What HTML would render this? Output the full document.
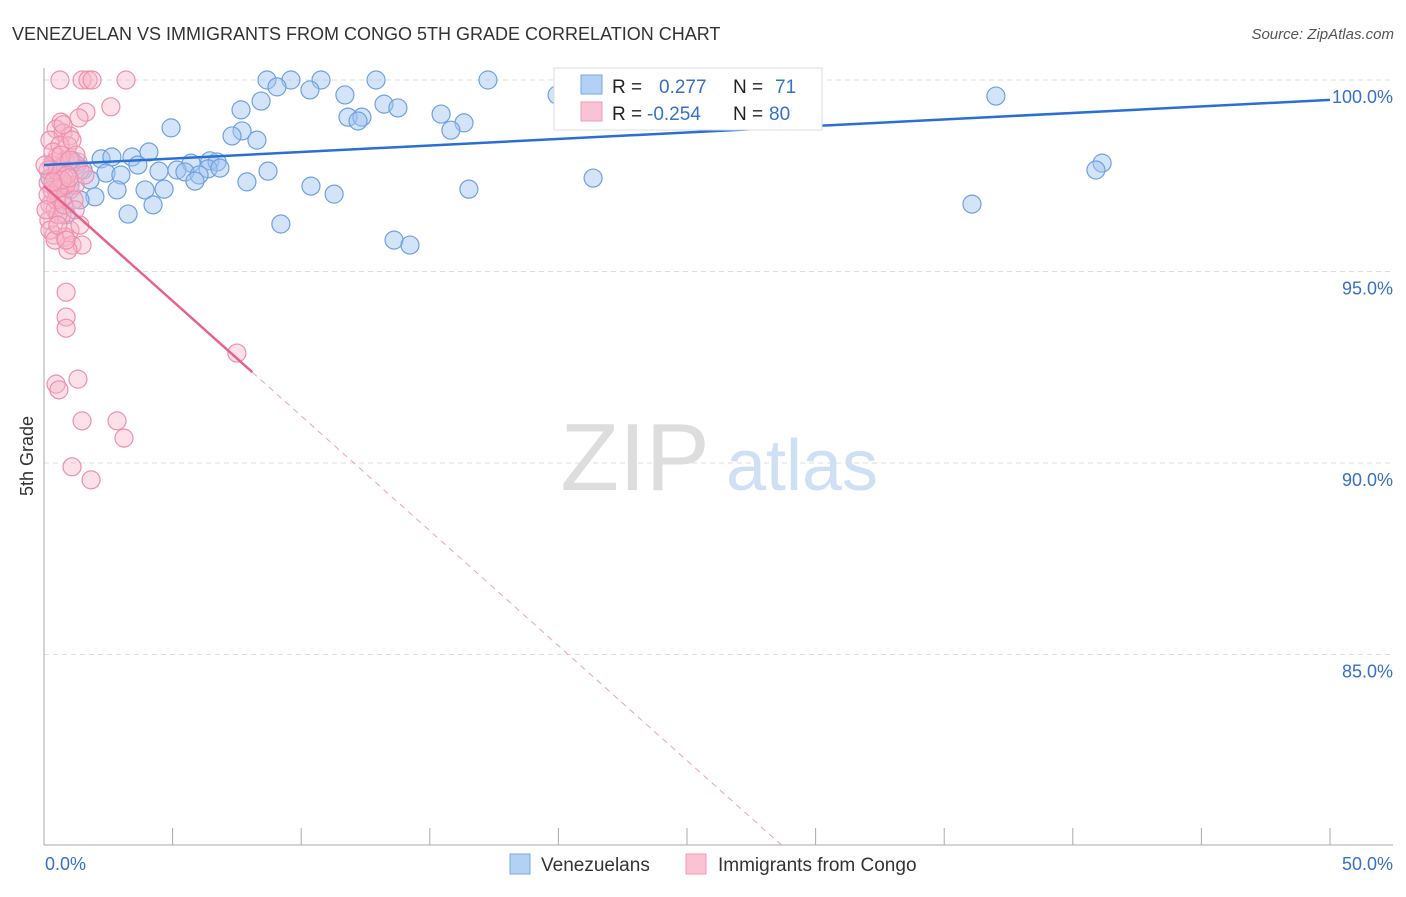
<!DOCTYPE html>
<html><head><meta charset="utf-8"><style>
body{margin:0;background:#fff;font-family:"Liberation Sans",sans-serif;}
svg text{font-family:"Liberation Sans",sans-serif;}
</style></head><body>
<svg id="chart" width="1406" height="892" xmlns="http://www.w3.org/2000/svg">
<text x="12" y="40" font-size="18" fill="#333">VENEZUELAN VS IMMIGRANTS FROM CONGO 5TH GRADE CORRELATION CHART</text>
<text x="1394" y="39" font-size="15" fill="#555" text-anchor="end" font-style="italic">Source: ZipAtlas.com</text>
<text transform="translate(33,456) rotate(-90)" font-size="18" fill="#333" text-anchor="middle">5th Grade</text>
<g>
<text x="635" y="490" font-size="96" fill="#ddd" text-anchor="middle" font-family="Liberation Serif">ZIP</text>
<text x="802" y="490" font-size="72" fill="#cfe0f5" text-anchor="middle">atlas</text>
</g>
<g id="grid"></g><g id="axes"></g><g id="pts"></g><g id="trend"></g>
<g>
<rect x="554" y="68" width="268" height="62" fill="#fff" stroke="#ddd"/>
<rect x="581" y="75" width="21" height="19" fill="#b3d0f5" stroke="#7aa8e6"/>
<rect x="581" y="102" width="21" height="19" fill="#fac3d3" stroke="#f09ab5"/>
<text x="612" y="93" font-size="19" fill="#222">R =</text>
<text x="659" y="93" font-size="19" fill="#3570c9">0.277</text>
<text x="733" y="93" font-size="19" fill="#222">N =</text>
<text x="775" y="93" font-size="19" fill="#3570c9">71</text>
<text x="612" y="120" font-size="19" fill="#222">R =</text>
<text x="647" y="120" font-size="19" fill="#3570c9">-0.254</text>
<text x="733" y="120" font-size="19" fill="#222">N =</text>
<text x="769" y="120" font-size="19" fill="#3570c9">80</text>
</g>
<g>
<rect x="510" y="854" width="20" height="20" fill="#b3d0f5" stroke="#7aa8e6"/>
<text x="541" y="871" font-size="19" fill="#333">Venezuelans</text>
<rect x="686" y="854" width="20" height="20" fill="#fac3d3" stroke="#f09ab5"/>
<text x="718" y="871" font-size="19" fill="#333">Immigrants from Congo</text>
</g>
</svg>
<script>
const xTicks=[0,5,10,15,20,25,30,35,40,45,50];
const yTicks=[100,95,90,85];
const yTickLabels=["100.0%","95.0%","90.0%","85.0%"];
const blueX=[8.67,9.60,10.77,12.91,17.26,21.97,9.06,10.34,8.44,11.70,7.66,13.22,13.76,19.95,37.01,15.44,11.82,12.36,12.21,16.33,15.82,4.94,7.70,7.31,8.28,4.08,2.22,2.64,3.42,5.72,6.45,6.73,3.65,1.28,1.52,2.41,2.99,4.47,5.17,5.48,6.38,6.84,6.03,1.79,41.14,40.90,21.35,8.71,5.87,7.89,10.38,3.93,2.84,4.67,11.28,16.52,1.98,1.40,4.24,3.27,0.86,36.08,9.21,13.61,14.23,0.62,1.01,0.47,0.70,0.23,1.09];
const blueY=[100,100,100,100,100,100,99.82,99.74,99.45,99.61,99.22,99.37,99.27,99.61,99.58,99.11,99.03,99.03,98.93,98.88,98.69,98.75,98.67,98.54,98.43,98.12,97.94,97.99,97.99,97.83,97.89,97.86,97.78,97.78,97.65,97.57,97.52,97.62,97.65,97.60,97.68,97.70,97.52,97.39,97.83,97.65,97.44,97.62,97.36,97.34,97.23,97.13,97.13,97.15,97.02,97.15,96.95,96.87,96.74,96.50,96.48,96.76,96.24,95.82,95.69,97.60,97.26,97.13,96.87,97.44,97.91];
const pinkX=[0.62,1.48,1.71,1.87,3.19,2.60,1.63,1.36,0.66,0.47,0.74,1.01,0.93,0.23,0.51,0.82,1.32,0.31,0.62,0.43,0.16,0.70,0.82,1.01,1.21,0.54,0.23,0.43,0.70,0.19,1.01,0.39,0.82,1.09,1.48,0.93,1.40,0.54,0.86,0.31,0.47,0.16,0.43,0.62,1.09,0.86,0.86,0.86,7.50,0.47,0.58,1.32,1.48,2.84,3.11,1.09,1.83,0.16,0.35,1.24,0.74,0.51,1.17,0.23,0.78,1.40,0.66,0.43,1.01,1.59,0.89,0.58,0.70,0.35,0.97,1.21,0.04,0.08,0.54,0.86];
const pinkY=[100,100,100,100,100,99.30,99.16,99.01,98.90,98.72,98.62,98.54,98.28,98.43,97.99,97.91,97.86,97.78,97.60,97.44,97.31,97.26,97.31,97.13,97.26,97.00,96.74,96.61,96.48,96.34,96.08,95.95,95.90,95.69,95.69,95.56,96.21,96.48,97.26,97.13,96.87,97.00,97.86,98.30,98.43,94.46,93.81,93.52,92.87,92.06,91.91,92.19,91.10,91.10,90.65,89.90,89.56,97.65,98.12,98.04,98.83,97.62,96.87,96.08,96.74,97.65,98.04,95.82,97.91,97.52,97.52,97.18,97.39,97.34,97.44,96.61,97.78,96.61,96.21,95.82];
const blueTrend=[97.78,99.48];
const pinkTrend=[97.23,-0.6];
const X=v=>44+v*25.72, Y=v=>80+(100-v)*38.3;
const NS="http://www.w3.org/2000/svg";
function mk(t,a,p){const e=document.createElementNS(NS,t);for(const k in a)e.setAttribute(k,a[k]);p.appendChild(e);return e;}
const grid=document.getElementById('grid'),axes=document.getElementById('axes'),pts=document.getElementById('pts'),tr=document.getElementById('trend');
yTicks.forEach((t,i)=>{
 const l=mk('line',{x1:44,x2:1393,y1:Y(t),y2:Y(t),stroke:'#ddd','stroke-dasharray':'5,4'},grid);
 
 
 const tx=mk('text',{x:1393,y:Y(t)+23,'font-size':18,fill:'#3570c9','text-anchor':'end'},grid);
 tx.textContent=yTickLabels[i];
 
 
});
const ya=mk('line',{x1:44,x2:44,y1:68,y2:845,stroke:'#aaa'},axes);


const xa=mk('line',{x1:44,x2:1393,y1:845,y2:845,stroke:'#aaa'},axes);


xTicks.forEach(t=>{
 const l=mk('line',{x1:X(t),x2:X(t),y1:828,y2:845,stroke:'#aaa'},axes);
 
 
});
const x0=mk('text',{x:45,y:870,'font-size':18,fill:'#3570c9'},axes);x0.textContent='0.0%';


const x1=mk('text',{x:1393,y:870,'font-size':18,fill:'#3570c9','text-anchor':'end'},axes);x1.textContent='50.0%';


blueX.forEach((v,i)=>{
 const c=mk('circle',{cx:X(v),cy:Y(blueY[i]),r:9,fill:'rgba(160,196,240,0.45)',stroke:'#6fa0e0','stroke-width':1.2},pts);
 
 
});
pinkX.forEach((v,i)=>{
 const c=mk('circle',{cx:X(v),cy:Y(pinkY[i]),r:9,fill:'rgba(248,180,200,0.4)',stroke:'#ee8fae','stroke-width':1.2},pts);
 
 
});
const bl=mk('line',{x1:X(0),y1:Y(blueTrend[0]),x2:X(50),y2:Y(blueTrend[1]),stroke:'#2a6fd6','stroke-width':2.5},tr);


const pf=x=>pinkTrend[0]+pinkTrend[1]*x;
const xEnd=(80-pinkTrend[0])/pinkTrend[1];
const ps=mk('line',{x1:X(0),y1:Y(pf(0)),x2:X(8.1),y2:Y(pf(8.1)),stroke:'#e8608c','stroke-width':2.5},tr);


const pd=mk('line',{x1:X(8.1),y1:Y(pf(8.1)),x2:X(xEnd),y2:Y(80),stroke:'#f0a0b8','stroke-width':1,'stroke-dasharray':'6,5'},tr);


</script>
</body></html>
